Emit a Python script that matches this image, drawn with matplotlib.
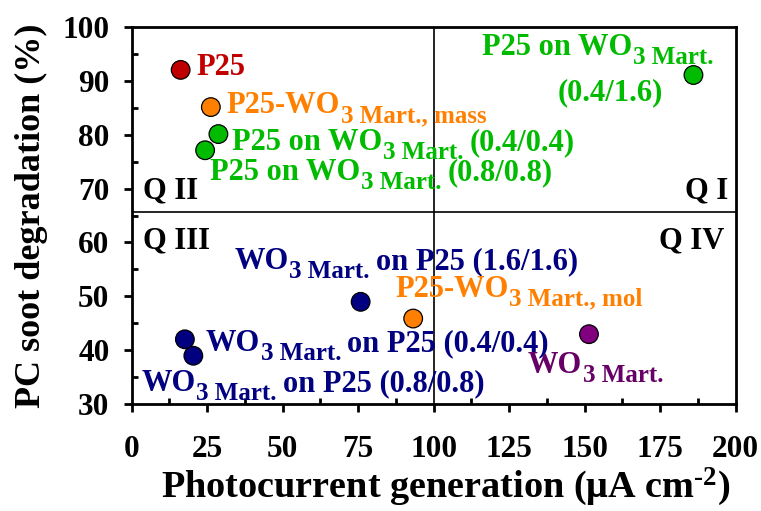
import matplotlib
matplotlib.use("Agg")
import matplotlib.pyplot as plt
from matplotlib.ticker import MultipleLocator

plt.rcParams["font.family"] = "Liberation Serif"
plt.rcParams["font.weight"] = "bold"
plt.rcParams["axes.labelweight"] = "bold"
plt.rcParams["mathtext.fontset"] = "custom"
plt.rcParams["mathtext.rm"] = "Liberation Serif:bold"
plt.rcParams["mathtext.it"] = "Liberation Serif:bold"
plt.rcParams["mathtext.bf"] = "Liberation Serif:bold"

# each label: list of (text, is_subscript)
labels = [
    [("P25", 0)],
    [("P25-WO", 0), ("3 Mart., mass", 1)],
    [("P25 on WO", 0), ("3 Mart.", 1), ("(0.4/0.4)", 0)],
    [("P25 on WO", 0), ("3 Mart.", 1), ("(0.8/0.8)", 0)],
    [("P25 on WO", 0), ("3 Mart.", 1)],
    [("WO", 0), ("3 Mart.", 1), ("on P25 (1.6/1.6)", 0)],
    [("P25-WO", 0), ("3 Mart., mol", 1)],
    [("WO", 0), ("3 Mart.", 1), ("on P25 (0.4/0.4)", 0)],
    [("WO", 0), ("3 Mart.", 1), ("on P25 (0.8/0.8)", 0)],
    [("WO", 0), ("3 Mart.", 1)],
]
photocurrent = [16.2, 26.2, 28.7, 24.3, 186.0, 75.8, 93.2, 17.6, 20.4, 151.4]
degradation = [92.0, 85.1, 80.1, 77.1, 91.05, 49.0, 45.9, 42.05, 39.0, 43.0]
face = ["#C00000", "#FF8000", "#00BB00", "#00BB00", "#00BB00",
        "#000080", "#FF8000", "#000080", "#000080", "#800080"]
txtc = ["#C00000", "#FF8000", "#00BB00", "#00BB00", "#00BB00",
        "#000080", "#FF8000", "#000080", "#000080", "#660066"]
# label offsets in pixels (dx right, dy down to baseline)
offs = [(16, 5), (16, 6), (14, 16), (5, 30), (-211, -20),
        (-126, -33), (-18, -22), (21, 12), (-52, 35), (-61, 39)]
x_split, y_split = 100, 65.6

FS, FS_SUB = 22, 18
DROP = 5      # pt, baseline shift of the subscript part
GAP = 4.5     # pt, space after a subscript part

fig = plt.figure(figsize=(7.61, 5.11), dpi=100)
ax = fig.add_axes([0.1731, 0.2088, 0.7937, 0.7389])
ax.set_xlim(0, 200); ax.set_ylim(30, 100)
ax.axvline(x_split, color="k", lw=1.2, zorder=1)
ax.axhline(y_split, color="k", lw=1.2, zorder=1)
ax.scatter(photocurrent, degradation, s=180, c=face, edgecolors="k", linewidths=0.9, zorder=3)


def chain_label(parts, x, y, dx, dy, color):
    prev, prev_sub = None, 0
    for txt, sub in parts:
        size = FS_SUB if sub else FS
        if prev is None:
            prev = ax.annotate(txt, (x, y), xytext=(dx * 0.72, -dy * 0.72), textcoords="offset points",
                               fontsize=size, color=color, ha="left", va="baseline", zorder=4)
        else:
            shift = -DROP if sub else DROP
            gap = GAP if prev_sub else 0.3
            prev = ax.annotate(txt, (1, 0), xycoords=prev, xytext=(gap, shift), textcoords="offset points",
                               fontsize=size, color=color, ha="left", va="bottom", zorder=4)
        prev_sub = sub


for parts, x, y, c, (dx, dy) in zip(labels, photocurrent, degradation, txtc, offs):
    chain_label(parts, x, y, dx, dy, c)
# second line of the top-right label
ax.annotate("(0.4/1.6)", (photocurrent[4], degradation[4]), xytext=(-83 * 0.72, -25 * 0.72),
            textcoords="offset points", fontsize=FS, color=txtc[4], ha="center", va="baseline")

for s, xa, ya, ha in [("Q II", 0.019, 0.546, "left"), ("Q I", 0.987, 0.546, "right"),
                      ("Q III", 0.019, 0.414, "left"), ("Q IV", 0.982, 0.414, "right")]:
    ax.text(xa, ya, s, transform=ax.transAxes, fontsize=FS, ha=ha, va="baseline")

ax.xaxis.set_major_locator(MultipleLocator(25)); ax.xaxis.set_minor_locator(MultipleLocator(12.5))
ax.yaxis.set_major_locator(MultipleLocator(10)); ax.yaxis.set_minor_locator(MultipleLocator(5))
ax.tick_params(which="major", direction="out", length=6, width=2, labelsize=22.5)
ax.tick_params(axis="x", which="major", pad=16)
ax.tick_params(axis="y", which="major", pad=10)
ax.tick_params(which="minor", direction="in", length=4, width=2)
for sp in ax.spines.values():
    sp.set_linewidth(2)
ax.set_xlabel(r"Photocurrent generation ($\mathrm{\mu}$A cm$^{\mathrm{\text{-}2}}$)", fontsize=27.5)
ax.xaxis.set_label_coords(0.52, -0.163)
ax.set_ylabel("PC soot degradation (%)", fontsize=26, labelpad=10)
fig.savefig("out.png", dpi=100)
